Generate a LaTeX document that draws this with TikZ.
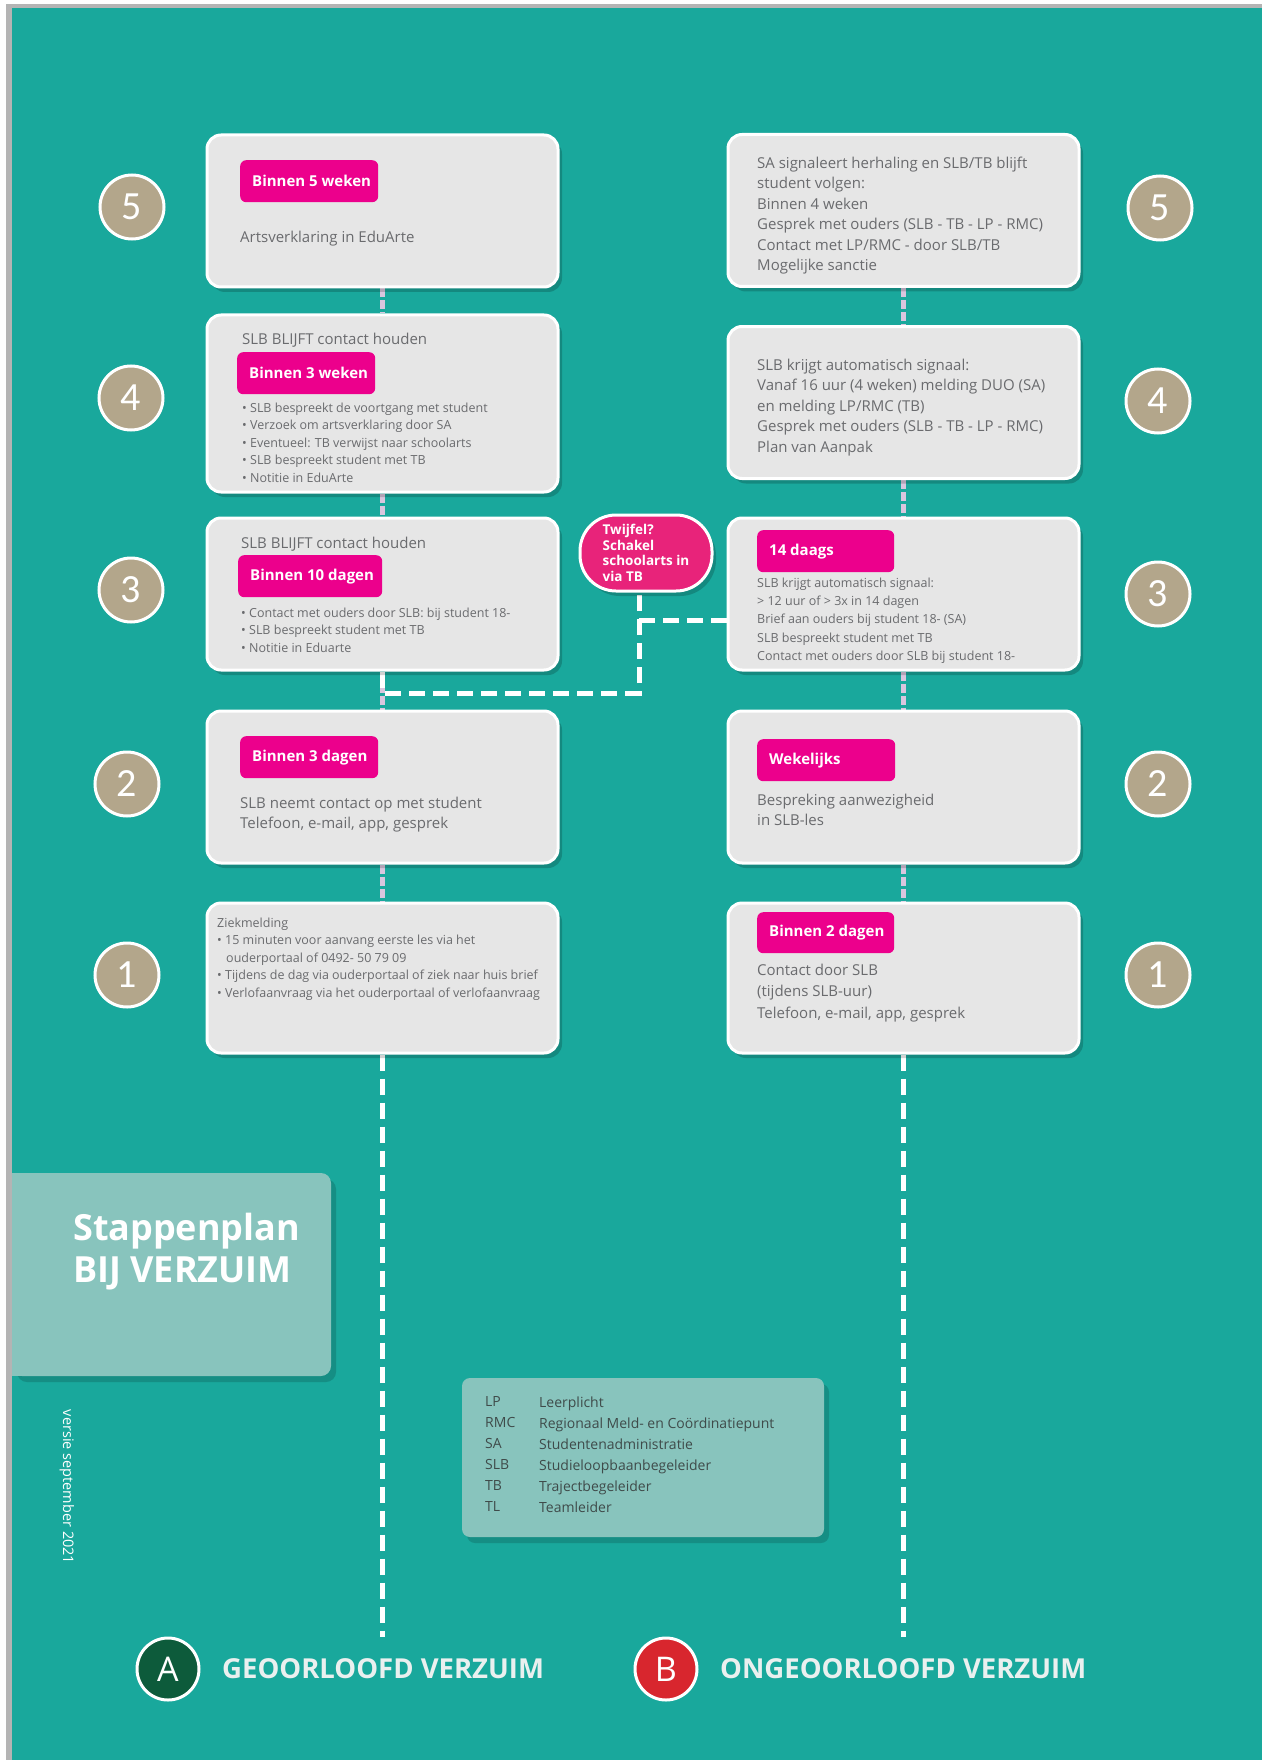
\documentclass[tikz,border=0pt]{standalone}
\usepackage{fontspec}
\setmainfont{Open Sans}
\newfontfamily\titelfont{Open Sans}
\newfontfamily\cijferfont{Carlito}
\usetikzlibrary{positioning,shadows,backgrounds,calc}

\definecolor{zeegroen}{HTML}{19A89C}
\definecolor{boxgrijs}{HTML}{E6E6E6}
\definecolor{roze}{HTML}{EC008C}
\definecolor{twijfelroze}{HTML}{E8237A}
\definecolor{taupe}{HTML}{B3A68B}
\definecolor{tekstgrijs}{HTML}{6A6B6E}
\definecolor{lila}{HTML}{D9C6DE}
\definecolor{lichtteal}{HTML}{88C4BD}
\definecolor{legendagrijs}{HTML}{3F4B4A}
\definecolor{groenA}{HTML}{0D5B3B}
\definecolor{roodB}{HTML}{D8262E}
\definecolor{randgrijs}{HTML}{B4B4B4}
\definecolor{ondertekst}{HTML}{EAF0EF}

\pgfdeclarelayer{bodem}
\pgfsetlayers{bodem,background,main}

\begin{document}
\begin{tikzpicture}[x=1pt, y=-1pt,
    stapbox/.style={draw=white, line width=3pt, fill=boxgrijs, rounded corners=14pt,
      minimum width=351pt, minimum height=152pt, inner sep=0pt,
      drop shadow={shadow xshift=4pt, shadow yshift=-5pt, opacity=.18, fill=black}},
    termijn/.style={fill=roze, rounded corners=6pt, anchor=north west,
      minimum height=42pt, inner xsep=12pt, inner ysep=0pt, text=white,
      font=\bfseries\fontsize{15}{17}\selectfont,
      execute at begin node={\hbox to #1\bgroup}, execute at end node={\hss\egroup}},
    termijn/.default=114pt,
    tekst/.style={anchor=north west, align=left, inner sep=0pt, text=tekstgrijs,
      font=\fontsize{15}{20.5}\selectfont},
    klein/.style={tekst, font=\fontsize{12.5}{17.5}\selectfont},
    stapnr/.style={circle, fill=taupe, draw=white, line width=3pt, minimum size=64pt,
      inner sep=0pt, text=white, font=\cijferfont\fontsize{40}{40}\selectfont},
    letter/.style={circle, draw=white, line width=3pt, minimum size=62pt, inner sep=0pt,
      text=white, font=\titelfont\fontsize{34}{34}\selectfont},
    onder/.style={anchor=west, inner sep=0pt, text=ondertekst,
      font=\titelfont\bfseries\fontsize{27.5}{28}\selectfont},
    verbind/.style={draw=lila, line width=5pt, dash pattern=on 9pt off 3pt},
    spoor/.style={draw=white, line width=5pt, dash pattern=on 16pt off 8pt},
  ]
  \useasboundingbox (0,0) rectangle (1266,1760);

  %% page, title block
  \begin{pgfonlayer}{bodem}
    \fill[white] (0,0) rectangle (1266,1760);
    \fill[zeegroen] (12,8) rectangle (1262,1760);
    \fill[lichtteal, rounded corners=10pt,
      drop shadow={shadow xshift=5pt, shadow yshift=-6pt, opacity=.15, fill=black}]
      (12,1173) rectangle (331,1376);
    \fill[lichtteal] (12,1173) rectangle (40,1376);
    \fill[randgrijs] (6,4) rectangle (12,1760);
    \fill[randgrijs] (6,4) rectangle (1262,8);
  \end{pgfonlayer}

  \node[anchor=base west, inner sep=0pt, text=white,
    font=\titelfont\bfseries\fontsize{36}{40}\selectfont] (titel1) at (73,1240) {Stappenplan};
  \node[anchor=base west, inner sep=0pt, text=white,
    font=\titelfont\bfseries\fontsize{36}{40}\selectfont] (titel2) at (73,1282) {BIJ VERZUIM};
  \node[rotate=-90, inner sep=0pt, text=white, font=\titelfont\fontsize{14.5}{14.5}\selectfont]
    (versie) at (67,1487) {versie september 2021};

  %% A: geoorloofd
  \node[stapbox] (b5L) at (382.5,211) {};
  \node[stapbox, minimum height=177pt] (b4L) at (382.5,403.5) {};
  \node[stapbox] (b3L) at (382.5,594) {};
  \node[stapbox] (b2L) at (382.5,787) {};
  \node[stapbox, minimum height=150pt] (b1L) at (382.5,978) {};

  \node[termijn] (t5L) at (240,160) {Binnen 5 weken};
  \node[tekst] (x5L) at (240,230.5) {Artsverklaring in EduArte};

  \node[tekst] (k4L) at (242,332.5) {SLB BLIJFT contact houden};
  \node[termijn] (t4L) at (237,352) {Binnen 3 weken};
  \node[klein] (x4L) at (242,402.6) {• SLB bespreekt de voortgang met student\\
    • Verzoek om artsverklaring door SA\\• Eventueel: TB verwijst naar schoolarts\\
    • SLB bespreekt student met TB\\• Notitie in EduArte};

  \node[tekst] (k3L) at (241,536.5) {SLB BLIJFT contact houden};
  \node[termijn=120pt] (t3L) at (238,555) {Binnen 10 dagen};
  \node[klein] (x3L) at (241,607.6) {• Contact met ouders door SLB: bij student 18-\\
    • SLB bespreekt student met TB\\• Notitie in Eduarte};

  \node[termijn] (t2L) at (240,736) {Binnen 3 dagen};
  \node[tekst] (x2L) at (240,796.5) {SLB neemt contact op met student\\Telefoon, e-mail, app, gesprek};

  \node[klein] (x1L) at (217,917.6) {Ziekmelding\\
    • 15 minuten voor aanvang eerste les via het\\
    \hspace*{9pt}ouderportaal of 0492- 50 79 09\\
    • Tijdens de dag via ouderportaal of ziek naar huis brief\\
    • Verlofaanvraag via het ouderportaal of verlofaanvraag};

  %% B: ongeoorloofd
  \node[stapbox] (b5R) at (903.5,210.5) {};
  \node[stapbox] (b4R) at (903.5,402.5) {};
  \node[stapbox] (b3R) at (903.5,594) {};
  \node[stapbox] (b2R) at (903.5,787) {};
  \node[stapbox, minimum height=150pt] (b1R) at (903.5,978) {};

  \node[tekst] (x5R) at (757,156.5) {SA signaleert herhaling en SLB/TB blijft\\student volgen:\\
    Binnen 4 weken\\Gesprek met ouders (SLB - TB - LP - RMC)\\
    Contact met LP/RMC - door SLB/TB\\Mogelijke sanctie};
  \node[tekst] (x4R) at (757,358.5) {SLB krijgt automatisch signaal:\\
    Vanaf 16 uur (4 weken) melding DUO (SA)\\en melding LP/RMC (TB)\\
    Gesprek met ouders (SLB - TB - LP - RMC)\\Plan van Aanpak};
  \node[termijn=113pt] (t3R) at (757,530) {14 daags};
  \node[klein, font=\fontsize{12.5}{18.3}\selectfont] (x3R) at (757,577.6)
    {SLB krijgt automatisch signaal:\\> 12 uur of > 3x in 14 dagen\\
    Brief aan ouders bij student 18- (SA)\\SLB bespreekt student met TB\\
    Contact met ouders door SLB bij student 18-};
  \node[termijn] (t2R) at (757,739) {Wekelijks};
  \node[tekst] (x2R) at (757,793.5) {Bespreking aanwezigheid\\in SLB-les};
  \node[termijn=113pt, minimum height=41pt] (t1R) at (757,912) {Binnen 2 dagen};
  \node[tekst, font=\fontsize{15}{21.5}\selectfont] (x1R) at (757,963.5)
    {Contact door SLB\\(tijdens SLB-uur)\\Telefoon, e-mail, app, gesprek};

  \node[draw=white, line width=3pt, fill=twijfelroze, rounded corners=36pt,
    minimum width=132pt, minimum height=76pt, inner sep=0pt, align=left, text=white,
    font=\bfseries\fontsize{13.5}{15.5}\selectfont,
    drop shadow={shadow xshift=4pt, shadow yshift=-5pt, opacity=.18, fill=black}]
    (tw) at (646,553) {Twijfel?\\Schakel\\schoolarts in\\via TB};

  %% step numbers
  \node[stapnr] (n5L) at (132,207) {5};
  \node[stapnr] (n4L) at (131,398) {4};
  \node[stapnr] (n3L) at (131,590) {3};
  \node[stapnr] (n2L) at (127,784) {2};
  \node[stapnr] (n1L) at (127,975) {1};
  \node[stapnr] (n5R) at (1160,208) {5};
  \node[stapnr] (n4R) at (1158,401) {4};
  \node[stapnr] (n3R) at (1158,594) {3};
  \node[stapnr] (n2R) at (1158,784) {2};
  \node[stapnr] (n1R) at (1158,975) {1};

  %% legend
  \node[fill=lichtteal, rounded corners=8pt, minimum width=362pt, minimum height=159pt,
    drop shadow={shadow xshift=5pt, shadow yshift=-6pt, opacity=.15, fill=black}]
    (legenda) at (643,1457.5) {};
  \node[tekst, text=legendagrijs, font=\fontsize{14}{21}\selectfont] (afk) at (485,1396.5)
    {LP\\RMC\\SA\\SLB\\TB\\TL};
  \node[tekst, text=legendagrijs, font=\fontsize{14}{21}\selectfont] (uitleg) at (539,1396.5)
    {Leerplicht\\Regionaal Meld- en Coördinatiepunt\\Studentenadministratie\\
    Studieloopbaanbegeleider\\Trajectbegeleider\\Teamleider};

  %% bottom labels
  \node[letter, fill=groenA] (A) at (168,1669) {A};
  \node[onder] (labelA) at (222,1669) {GEOORLOOFD VERZUIM};
  \node[letter, fill=roodB] (B) at (666,1669) {B};
  \node[onder] (labelB) at (720,1669) {ONGEOORLOOFD VERZUIM};

  %% connectors
  \coordinate (eindA) at (382.5,1637);
  \coordinate (eindB) at (903.5,1637);
  \coordinate (knik) at (639,693);
  \coordinate (tak) at (639,620);
  \begin{scope}[on background layer]
    \draw[verbind] (b5L) -- (b4L);
    \draw[verbind] (b4L) -- (b3L);
    \draw[verbind] (b3L) -- (b2L);
    \draw[verbind] (b2L) -- (b1L);
    \draw[verbind] (b5R) -- (b4R);
    \draw[verbind] (b4R) -- (b3R);
    \draw[verbind] (b3R) -- (b2R);
    \draw[verbind] (b2R) -- (b1R);
    \draw[spoor] (b1L.south) -- (eindA);
    \draw[spoor] (b1R.south) -- (eindB);
    \draw[spoor] (b3L.south) |- (knik) -- (tw.south -| knik);
    \draw[spoor] (tak) -- (tak -| b3R.west);
  \end{scope}
\end{tikzpicture}
\end{document}
